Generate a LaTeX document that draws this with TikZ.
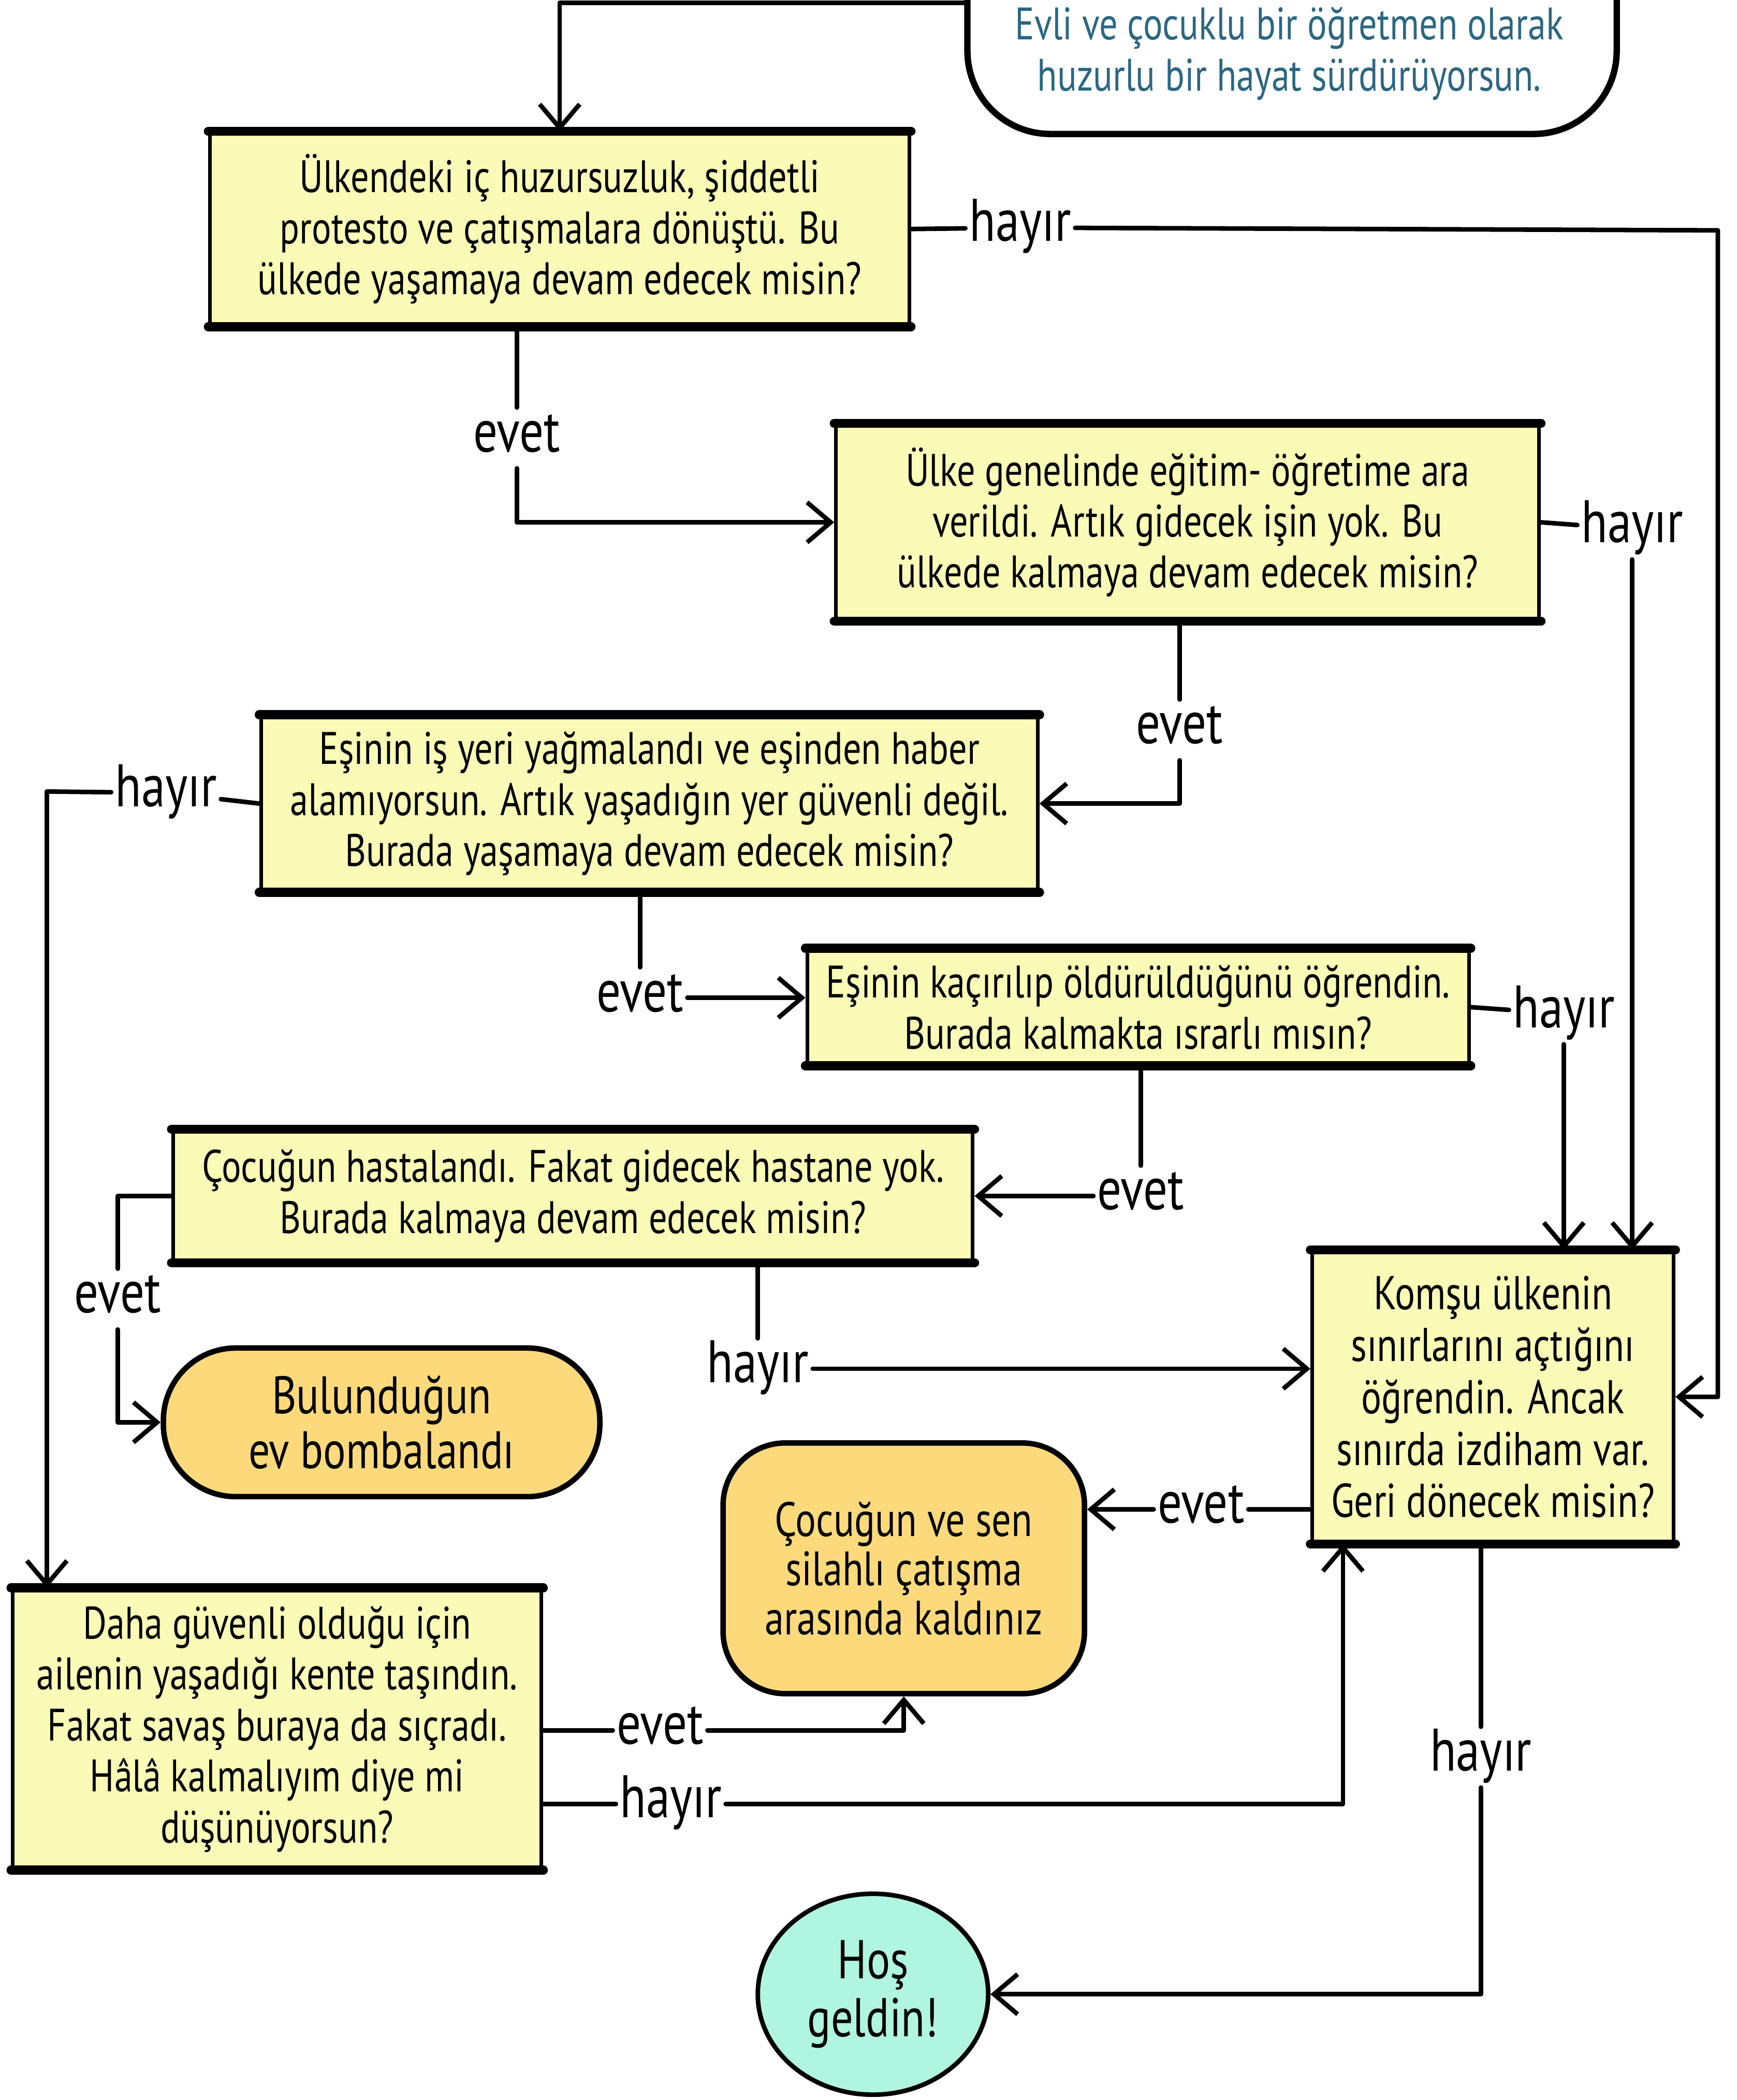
\documentclass[tikz,border=0pt]{standalone}
\usepackage{fontspec}
\setmainfont{PT Sans}[FakeStretch=0.8]
\usetikzlibrary{shapes.geometric, arrows.meta}
\definecolor{qyellow}{HTML}{F9FBB6}
\definecolor{eorange}{HTML}{FCDA7C}
\definecolor{emint}{HTML}{B0F5DF}
\definecolor{steal}{HTML}{2B6782}
\newcommand{\boxfont}{\fontsize{25}{28}\selectfont}
\newcommand{\ansfont}{\fontsize{33}{33}\selectfont}
\tikzstyle{question} = [rectangle, draw, line width=2pt, fill=qyellow, align=center, font=\boxfont, append after command={(\tikzlastnode.north west) edge[line width=5pt, line cap=round] (\tikzlastnode.north east) (\tikzlastnode.south west) edge[line width=5pt, line cap=round] (\tikzlastnode.south east)}]
\tikzstyle{ending} = [rectangle, rounded corners=1.2cm, draw, line width=3pt, fill=eorange, align=center]
\tikzstyle{haven} = [ellipse, draw, line width=2.5pt, fill=emint, align=center, inner sep=0pt]
\tikzstyle{answer} = [font=\ansfont, inner sep=2pt, text height=22pt, text depth=7pt]
\tikzstyle{wire} = [line width=2.5pt, line cap=round, line join=round]
\tikzstyle{flow} = [wire, -{Straight Barb[length=13pt, width=22pt]}]

\begin{document}
\begin{tikzpicture}[x=0.2586mm, y=-0.2586mm]
  \useasboundingbox (0,0) rectangle (1297,1568);

  % start
  \node (start) [draw, line width=3.5pt, fill=white, rounded corners=1.6cm, minimum width=12.54cm, minimum height=5.07cm] at (965,2) {};
  \node (story) [font=\boxfont, text=steal, align=center] at (963,40) {Evli ve çocuklu bir öğretmen olarak\\huzurlu bir hayat sürdürüyorsun.};

  % questions
  \node (unrest) [question, minimum width=13.5cm, minimum height=3.7cm] at (418,171) {Ülkendeki iç huzursuzluk, şiddetli\\protesto ve çatışmalara dönüştü. Bu\\ülkede yaşamaya devam edecek misin?};
  \node (school) [question, minimum width=13.58cm, minimum height=3.75cm] at (887,390) {Ülke genelinde eğitim- öğretime ara\\verildi. Artık gidecek işin yok. Bu\\ülkede kalmaya devam edecek misin?};
  \node (looted) [question, minimum width=15cm, minimum height=3.36cm] at (485,600) {Eşinin iş yeri yağmalandı ve eşinden haber\\alamıyorsun. Artık yaşadığın yer güvenli değil.\\Burada yaşamaya devam edecek misin?};
  \node (spouse) [question, minimum width=12.78cm, minimum height=2.2cm] at (850,752) {Eşinin kaçırılıp öldürüldüğünü öğrendin.\\Burada kalmakta ısrarlı mısın?};
  \node (sick) [question, minimum width=15.44cm, minimum height=2.51cm] at (428,893) {Çocuğun hastalandı. Fakat gidecek hastane yok.\\Burada kalmaya devam edecek misin?};
  \node (border) [question, font=\fontsize{26}{28.5}\selectfont, minimum width=6.98cm, minimum height=5.61cm] at (1115,1043) {Komşu ülkenin\\sınırlarını açtığını\\öğrendin. Ancak\\sınırda izdiham var.\\Geri dönecek misin?};
  \node (family) [question, minimum width=10.21cm, minimum height=5.38cm] at (207,1291) {Daha güvenli olduğu için\\ailenin yaşadığı kente taşındın.\\Fakat savaş buraya da sıçradı.\\Hâlâ kalmalıyım diye mi\\düşünüyorsun?};

  % endings
  \node (bombed) [ending, rounded corners=1.4cm, font=\fontsize{29}{30}\selectfont, minimum width=8.43cm, minimum height=2.87cm] at (285,1062) {Bulunduğun\\ev bombalandı};
  \node (crossfire) [ending, font=\fontsize{26.5}{27}\selectfont, minimum width=6.98cm, minimum height=4.84cm] at (675,1171) {Çocuğun ve sen\\silahlı çatışma\\arasında kaldınız};
  \node (welcome) [haven, font=\fontsize{30}{32}\selectfont, minimum width=4.45cm, minimum height=3.88cm] at (652,1489) {Hoş\\geldin!};

  % answers
  \node (h1) [answer] at (762,170) {hayır};
  \node (e1) [answer] at (386,327) {evet};
  \node (h2) [answer] at (1219,395) {hayır};
  \node (e2) [answer] at (881,545) {evet};
  \node (h3) [answer] at (124,592) {hayır};
  \node (e3) [answer] at (478,745) {evet};
  \node (h4) [answer] at (1168,757) {hayır};
  \node (e4) [answer] at (852,893) {evet};
  \node (e5) [answer] at (88,970) {evet};
  \node (h5) [answer] at (566,1022) {hayır};
  \node (e6) [answer] at (897,1127) {evet};
  \node (h6) [answer] at (1106,1312) {hayır};
  \node (e7) [answer] at (493,1292) {evet};
  \node (h7) [answer] at (501,1347) {hayır};

  \coordinate (c1) at (1283,172);
  \coordinate (c3) at (35,591);
  \coordinate (c7) at (1003,1347);

  % connectors
  \draw [flow] (start.west) -| (unrest.north);
  \draw [wire] (unrest.east) -- (h1);
  \draw [flow] (h1) -- (c1) |- (border.east);
  \draw [wire] (unrest.south -| e1) -- (e1);
  \draw [flow] (e1) |- (school.west);
  \draw [wire] (school.east) -- (h2);
  \draw [flow] (h2) -- (h2 |- border.north);
  \draw [wire] (school.south -| e2) -- (e2);
  \draw [flow] (e2) |- (looted.east);
  \draw [wire] (looted.west) -- (h3);
  \draw [flow] (h3) -- (c3) -- (c3 |- family.north);
  \draw [wire] (looted.south -| e3) -- (e3);
  \draw [flow] (e3) -- (e3 -| spouse.west);
  \draw [wire] (spouse.east) -- (h4);
  \draw [flow] (h4) -- (h4 |- border.north);
  \draw [wire] (spouse.south -| e4) -- (e4);
  \draw [flow] (e4) -- (sick.east);
  \draw [wire] (sick.west) -| (e5);
  \draw [flow] (e5) |- (bombed.west);
  \draw [wire] (sick.south -| h5) -- (h5);
  \draw [flow] (h5) -- (h5 -| border.west);
  \draw [wire] (border.west |- e6) -- (e6);
  \draw [flow] (e6) -- (e6 -| crossfire.east);
  \draw [wire] (border.south -| h6) -- (h6);
  \draw [flow] (h6) |- (welcome.east);
  \draw [wire] (family.east |- e7) -- (e7);
  \draw [flow] (e7) -| (crossfire.south);
  \draw [wire] (family.east |- h7) -- (h7);
  \draw [flow] (h7) -- (c7) -- (c7 |- border.south);
\end{tikzpicture}
\end{document}
